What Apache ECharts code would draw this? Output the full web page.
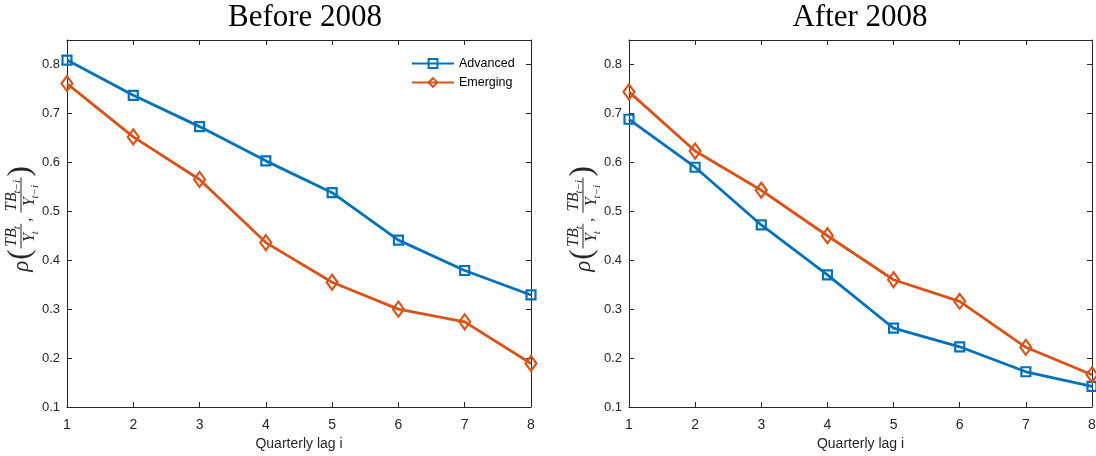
<!DOCTYPE html>
<html>
<head>
<meta charset="utf-8">
<script src="https://cdn.jsdelivr.net/npm/echarts@6/dist/echarts.min.js"></script>
<style>
  html, body { margin: 0; padding: 0; background: #fff; }
  #chart { width: 1096px; height: 456px; }
</style>
</head>
<body>
<div id="chart"></div>
<script>
const lags = [1, 2, 3, 4, 5, 6, 7, 8];
const seriesNames = ["Advanced", "Emerging"];
const panelTitles = ["Before 2008", "After 2008"];
const xName = "Quarterly lag i";

const beforeAdvanced = [0.809, 0.737, 0.673, 0.603, 0.538, 0.441, 0.379, 0.329];
const beforeEmerging = [0.761, 0.652, 0.565, 0.436, 0.355, 0.300, 0.274, 0.189];
const afterAdvanced = [0.688, 0.590, 0.472, 0.370, 0.261, 0.223, 0.172, 0.142];
const afterEmerging = [0.744, 0.623, 0.543, 0.450, 0.360, 0.316, 0.222, 0.166];

const BLUE = "#0072BD";
const ORANGE = "#D95319";
const AXIS = "#262626";
const SANS = "Liberation Sans";
const SERIF = "Liberation Serif";

const grids = [
  { left: 67, top: 40, width: 464, height: 367, outerBoundsMode: "none", containLabel: false },
  { left: 629, top: 40, width: 463, height: 367, outerBoundsMode: "none", containLabel: false }
];

const chart = echarts.init(document.getElementById("chart"));

const tickStyle = { show: true, inside: true, length: 5, lineStyle: { color: AXIS, width: 1 } };
const lineStyle = { show: true, lineStyle: { color: AXIS, width: 1 } };
const yFmt = v => (Math.abs(v * 10 - Math.round(v * 10)) < 1e-6 ? v.toFixed(1) : "");

const xAxes = [];
const yAxes = [];
grids.forEach((g, i) => {
  xAxes.push({
    gridIndex: i, type: "value", min: 1, max: 8, interval: 1, position: "bottom",
    name: xName, nameLocation: "middle", nameGap: 30,
    nameTextStyle: { fontFamily: SANS, fontSize: 14, color: AXIS },
    axisLine: lineStyle, axisTick: tickStyle, splitLine: { show: false },
    axisLabel: { margin: 11, fontFamily: SANS, fontSize: 14, color: AXIS }
  });
  xAxes.push({
    gridIndex: i, type: "value", min: 1, max: 8, interval: 1, position: "top",
    axisLine: lineStyle, axisTick: tickStyle, splitLine: { show: false },
    axisLabel: { show: false }
  });
  yAxes.push({
    gridIndex: i, type: "value", min: 0.1, max: 0.85, interval: 0.1, position: "left",
    axisLine: lineStyle, axisTick: tickStyle, splitLine: { show: false },
    axisLabel: { margin: 7, fontFamily: SANS, fontSize: 13, color: AXIS, formatter: yFmt }
  });
  yAxes.push({
    gridIndex: i, type: "value", min: 0.1, max: 0.85, interval: 0.1, position: "right",
    axisLine: lineStyle, axisTick: tickStyle, splitLine: { show: false },
    axisLabel: { show: false }
  });
});

function makeSeries(name, values, panel, color, symbol, size) {
  return {
    name: name,
    type: "line",
    xAxisIndex: panel * 2,
    yAxisIndex: panel * 2,
    data: lags.map((x, i) => [x, values[i]]),
    symbol: symbol,
    symbolSize: size,
    showAllSymbol: true,
    lineStyle: { color: color, width: 2.8 },
    itemStyle: { color: "rgba(255,255,255,0)", borderColor: color, borderWidth: 2.2 },
    emphasis: { disabled: true },
    animation: false
  };
}

const series = [
  makeSeries(seriesNames[0], beforeAdvanced, 0, BLUE, "rect", 9),
  makeSeries(seriesNames[1], beforeEmerging, 0, ORANGE, "diamond", [11, 15]),
  makeSeries(seriesNames[0], afterAdvanced, 1, BLUE, "rect", 9),
  makeSeries(seriesNames[1], afterEmerging, 1, ORANGE, "diamond", [11, 15])
];

// rho( TB_t/Y_t , TB_{t-i}/Y_{t-i} ) built as a rotated group of text pieces
const measureCtx = document.createElement("canvas").getContext("2d");
function textWidth(text, font) {
  measureCtx.font = font;
  return measureCtx.measureText(text).width;
}
function rhoLabel(cx, cy) {
  const big = 16, small = 11;
  const fBig = "italic " + big + 'px "' + SERIF + '"';
  const fSmall = "italic " + small + 'px "' + SERIF + '"';
  const fRho = "italic 23px \"" + SERIF + "\"";
  const fParen = "31px \"" + SERIF + "\"";
  const fComma = "16px \"" + SERIF + "\"";
  const kids = [];
  let x = 0;
  const put = (text, font, px, py, va) => kids.push({
    type: "text",
    style: { text: text, x: px, y: py, font: font, fill: AXIS, verticalAlign: va }
  });
  function fraction(sub) {
    const nW = textWidth("TB", fBig) + textWidth(sub, fSmall);
    const dW = textWidth("Y", fBig) + textWidth(sub, fSmall);
    const w = Math.max(nW, dW) + 3;
    const nx = x + (w - nW) / 2;
    put("TB", fBig, nx, -1, "bottom");
    put(sub, fSmall, nx + textWidth("TB", fBig) - 1, 2, "bottom");
    const dx = x + (w - dW) / 2;
    put("Y", fBig, dx, 1, "top");
    put(sub, fSmall, dx + textWidth("Y", fBig) - 1, 9, "top");
    kids.push({ type: "line", shape: { x1: x, y1: 0, x2: x + w, y2: 0 }, style: { stroke: AXIS, lineWidth: 1 } });
    x += w;
  }
  put("\u03c1", fRho, x, 1, "middle"); x += textWidth("\u03c1", fRho) + 1;
  put("(", fParen, x, 0, "middle"); x += textWidth("(", fParen) + 1;
  fraction("t");
  x += 2;
  put(",", fComma, x, 6, "middle"); x += textWidth(",", fComma) + 5;
  fraction("t\u2212i");
  x += 1;
  put(")", fParen, x, 0, "middle"); x += textWidth(")", fParen);
  const total = x;
  kids.forEach(k => {
    if (k.type === "text") k.style.x -= total / 2;
    else { k.shape.x1 -= total / 2; k.shape.x2 -= total / 2; }
  });
  return { type: "group", x: cx, y: cy, rotation: Math.PI / 2, children: kids, silent: true };
}

const graphic = [
  { type: "text", x: 305, y: 2, style: { text: panelTitles[0], font: '31px "' + SERIF + '"', fill: "#000", align: "center", verticalAlign: "top" }, silent: true },
  { type: "text", x: 860, y: 2, style: { text: panelTitles[1], font: '31px "' + SERIF + '"', fill: "#000", align: "center", verticalAlign: "top" }, silent: true },
  rhoLabel(21, 219),
  rhoLabel(583, 219)
];

chart.setOption({
  backgroundColor: "#fff",
  animation: false,
  grid: grids,
  xAxis: xAxes,
  yAxis: yAxes,
  legend: {
    data: seriesNames,
    orient: "vertical",
    left: 411,
    top: 57,
    itemWidth: 42,
    itemHeight: 11,
    itemGap: 6,
    padding: 0,
    selectedMode: false,
    textStyle: { fontFamily: SANS, fontSize: 12.5, color: "#000" }
  },
  graphic: graphic,
  series: series
});
</script>
</body>
</html>
